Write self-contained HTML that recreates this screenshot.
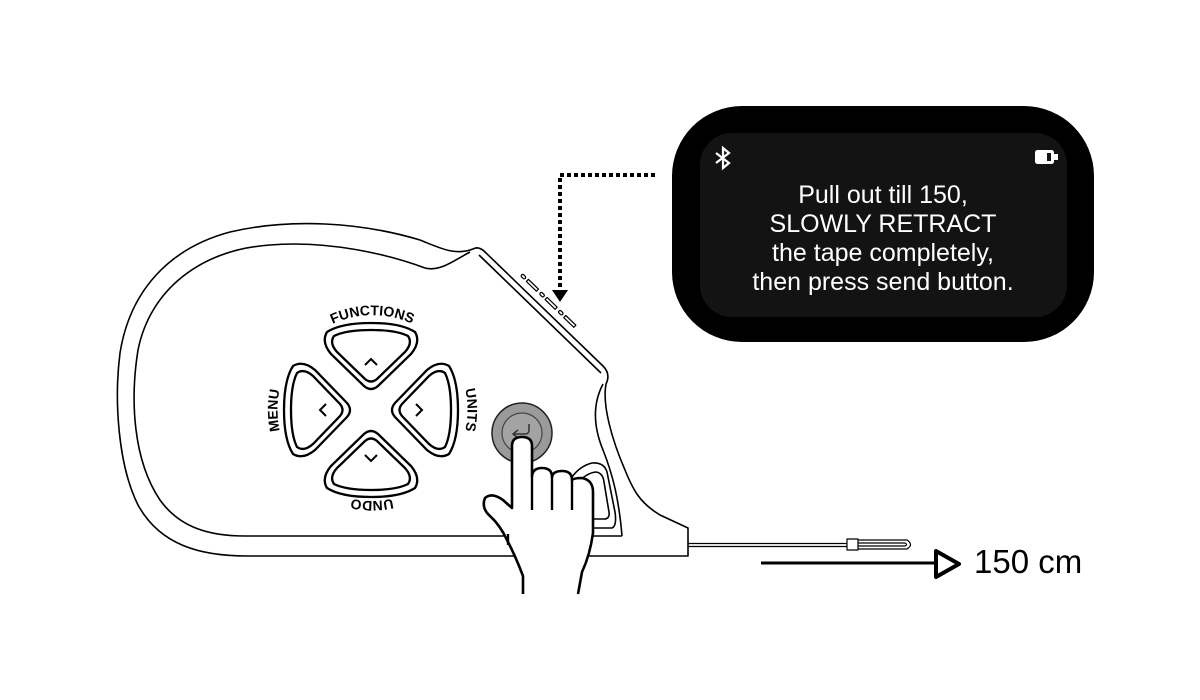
<!DOCTYPE html>
<html><head><meta charset="utf-8"><style>
html,body{margin:0;padding:0;background:#fff;}
svg{display:block;}
</style></head><body>
<svg width="1200" height="700" viewBox="0 0 1200 700" xmlns="http://www.w3.org/2000/svg">
<rect width="1200" height="700" fill="#fff"/>
<!-- body -->
<g fill="none" stroke="#000" stroke-width="1.6" stroke-linejoin="round">
<path d="M473,249 Q478,246 484,251 L603,366 Q611,374 606,384 C602,405 612,440 625,470 C633,490 640,503 660,515 L688,528 L688,556 L247,556 C200,556 160,545 138,505 C118,465 114,400 120,353 C130,290 170,248 230,232 C290,218 360,222 420,240 C440,248 455,256 473,249 Z" fill="#fff"/>
<path d="M470,252 C455,260 440,272 425,268 C390,255 330,240 270,245 C200,250 150,290 138,350 C130,400 133,460 160,500 C180,528 210,536 245,536 L622,536"/>
<path d="M622,536 C619,500 613,475 603,450 C594,428 592,405 603,384"/>
<path d="M479,255 L601,373"/>
<g transform="translate(548,308) rotate(44)" stroke-width="1.2">
<rect x="-42" y="-7" width="5" height="3" rx="1.5"/>
<rect x="-34" y="-7" width="14" height="3"/>
<rect x="-16" y="-7" width="5" height="3" rx="1.5"/>
<rect x="-8" y="-7" width="14" height="3"/>
<rect x="10" y="-7" width="5" height="3" rx="1.5"/>
<rect x="18" y="-7" width="14" height="3"/>
</g>
<path d="M572,477 Q580,466 592,463 Q604,462 607,472 L615,512 Q617,526 612,528 L593,528" stroke-width="1.6"/>
<path d="M578,483 Q586,473 596,472 Q603,473 604,482 L609,512 Q610,519 604,519 L593,519" stroke-width="1.6"/>
<!-- tape -->
<path d="M688,543.5 L847,543.5 M688,546.5 L847,546.5" stroke-width="1.2"/>
<rect x="847" y="539" width="11" height="11" stroke-width="1.2"/>
<path d="M858,540 L907,540 Q914,544.5 907,549 L858,549 M858,543 L905,543 Q908,544.5 905,546 L858,546" stroke-width="1.2"/>
</g>
<!-- dpad -->
<g transform="translate(371,410)" fill="#fff" stroke="#000" stroke-width="2.3">
<g id="btn">
<path d="M-7,-24 Q0,-18 7,-24 L40,-56 Q50,-68 44,-78 Q30,-87 0,-87 Q-30,-87 -44,-78 Q-50,-68 -40,-56 Z"/>
<path d="M-6,-31 Q0,-26 6,-31 L34,-58 Q42,-67 37,-74 Q25,-80 0,-80 Q-25,-80 -37,-74 Q-42,-67 -34,-58 Z"/>
<path d="M-6,-45 L0,-51 L6,-45" fill="none" stroke-width="2"/>
</g>
<use href="#btn" transform="rotate(90)"/>
<use href="#btn" transform="rotate(180)"/>
<use href="#btn" transform="rotate(270)"/>
</g>
<defs>
<path id="circ" d="M305.5,477.5 A95,95 0 1 1 439.5,477.5 A95,95 0 0 1 305.5,477.5"/>
</defs>
<g font-family="Liberation Sans, Arial, sans-serif" font-weight="bold" font-size="14" fill="#000">
<text><textPath href="#circ" startOffset="12.5%" text-anchor="middle">MENU</textPath></text>
<text><textPath href="#circ" startOffset="37.5%" text-anchor="middle">FUNCTIONS</textPath></text>
<text><textPath href="#circ" startOffset="62.5%" text-anchor="middle">UNITS</textPath></text>
</g>
<path id="bot" d="M463,410 A91,91 0 0 1 281,410" fill="none"/>
<text font-family="Liberation Sans, Arial, sans-serif" font-weight="bold" font-size="14"><textPath href="#bot" startOffset="50%" text-anchor="middle">UNDO</textPath></text>
<!-- send button -->
<circle cx="522" cy="433" r="30" fill="#9a9a9a" stroke="#222" stroke-width="1.5"/>
<circle cx="522" cy="433" r="20" fill="#a3a3a3" stroke="#444" stroke-width="1.2"/>
<path d="M529,424 L529,430 Q529,434 525,434 L514,434 M518,430 L513,434 L518,438" fill="none" stroke="#333" stroke-width="1.5"/>
<!-- hand -->
<path d="M523,594 L523,576 Q515,555 507,540 Q500,525 490,516 Q481,508 485,498 Q492,492 503,500 L512,508 L512,446 Q512,437 522,437 Q532,437 532,446 L532,476 Q533,468 542,468 Q552,468 552,477 Q553,471 562,471 Q572,471 572,480 Q574,478 582,478 Q593,480 593,492 L593,533 Q590,555 582,572 L578,594" fill="#fff" stroke="#000" stroke-width="2.6" stroke-linejoin="round"/>
<path d="M532,476 L532,510 M552,477 L552,510 M572,480 L572,510 M508,534 L508,545" stroke="#000" stroke-width="2.4" fill="none"/>
<!-- dotted connector -->
<path d="M655,175 L560,175 L560,290" fill="none" stroke="#000" stroke-width="4" stroke-dasharray="4 3"/>
<path d="M552,290 L568,290 L560,302 Z" fill="#000"/>
<!-- screen -->
<rect x="672" y="106" width="422" height="236" rx="70" fill="#000"/>
<rect x="700" y="133" width="367" height="184" rx="32" fill="#131313"/>
<g fill="#fff" font-family="Liberation Sans, Arial, sans-serif" font-size="25" text-anchor="middle">
<text x="883" y="203">Pull out till 150,</text>
<text x="883" y="232">SLOWLY RETRACT</text>
<text x="883" y="261">the tape completely,</text>
<text x="883" y="290">then press send button.</text>
</g>
<path d="M716,153 L729,163 L723,168 L723,148 L729,153 L716,163" fill="none" stroke="#fff" stroke-width="2.2"/>
<rect x="1035" y="150" width="19" height="14" rx="2.5" fill="#fff"/>
<rect x="1054" y="154" width="4" height="6" fill="#fff"/>
<rect x="1047" y="153" width="4" height="8" fill="#131313"/>
<!-- arrow + label -->
<path d="M761,563 L935,563" stroke="#000" stroke-width="3"/>
<path d="M936,551 L959,564 L936,577 Z" fill="#fff" stroke="#000" stroke-width="4" stroke-linejoin="round"/>
<text x="974" y="573" font-family="Liberation Sans, Arial, sans-serif" font-size="33" fill="#000">150 cm</text>
</svg>
</body></html>
